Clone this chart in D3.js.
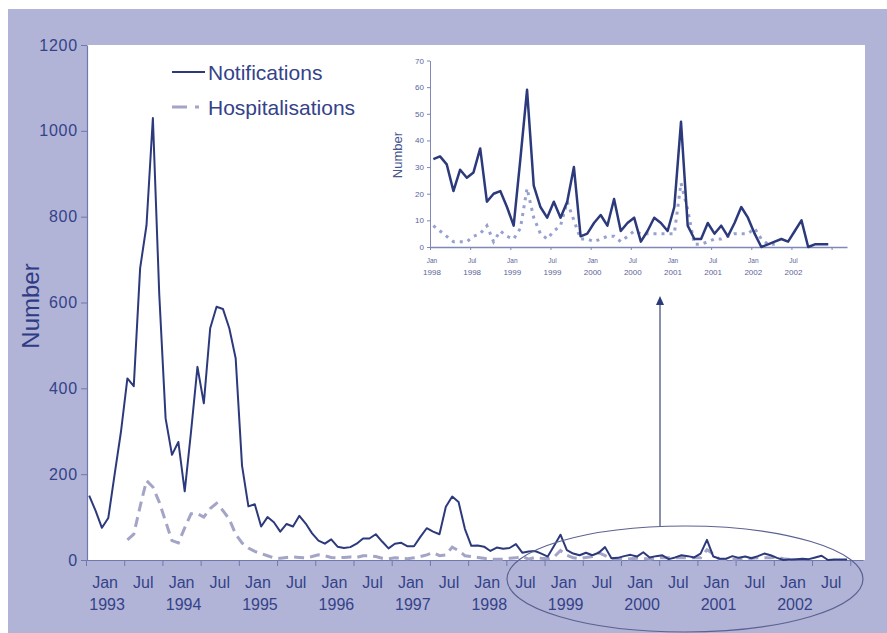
<!DOCTYPE html>
<html><head><meta charset="utf-8">
<script src="https://cdn.jsdelivr.net/npm/d3@7"></script>
<style>body{margin:0;background:#fff}svg{display:block}text{font-family:"Liberation Sans",Arial,sans-serif}</style>
</head><body>
<svg id="c" width="887" height="633"></svg>
<script>
// Monthly counts, Jan 1993 - Dec 1997
const notifications1993to1997 = [150,115,75,98,200,300,423,405,680,780,1030,620,
  330,245,275,160,300,450,365,540,590,585,540,470,
  220,125,130,78,100,88,66,84,78,103,85,62,
  45,38,48,31,28,30,38,50,50,60,43,27,
  38,40,32,32,54,74,66,60,124,148,135,72];
// Monthly counts, Jan 1998 - Dec 2002
const notifications1998to2002 = [33,34,31,21,29,26,28,37,17,20,21,15,
  8,33,59,23,15,11,17,11,17,30,4,5,
  9,12,8,18,6,9,11,2,6,11,9,6,
  15,47,8,3,3,9,5,8,4,9,15,11,
  5,0,1,2,3,2,6,10,0,1,1,1];
const hospitalisations1993to1997 = [null,null,null,null,null,null,47,60,125,185,170,135,
  90,45,40,75,108,108,100,120,132,115,95,60,
  40,28,20,15,10,5,4,6,7,6,5,8,
  12,10,6,5,6,7,6,10,10,8,4,3,
  5,4,3,5,8,12,17,10,12,30,22,10];
const hospitalisations1998to2002 = [8,6,4,2,2,2,4,5,8,2,6,4,
  3,7,22,11,5,3,6,8,17,10,3,3,
  2,3,4,4,2,4,6,5,5,5,5,5,
  5,24,14,1,1,2,3,3,4,5,5,5,
  7,3,1,1,null,null,null,null,null,null,null,null];
const mainYTicks = [0,200,400,600,800,1000,1200];
const insetYTicks = [0,10,20,30,40,50,60,70];
const halfYearLabels = ["Jan","Jul"];
const mainYears = ["1993","1994","1995","1996","1997","1998","1999","2000","2001","2002"];
const insetYears = ["1998","1999","2000","2001","2002"];
const seriesNames = ["Notifications","Hospitalisations"];

const navy = "#2c3a7c", axisCol = "#6f79ad", textCol = "#34428a";
const svg = d3.select("#c");
svg.append("rect").attr("x",8).attr("y",9).attr("width",879).attr("height",624).attr("fill","#b1b4d6");
svg.append("rect").attr("x",87).attr("y",45).attr("width",778).attr("height",515).attr("fill","#ffffff");

// ---------- main chart ----------
const x = d3.scaleLinear().domain([0,122]).range([86,863]);
const y = d3.scaleLinear().domain([0,1200]).range([560,45]);
const notif = notifications1993to1997.concat(notifications1998to2002);
const hosp = hospitalisations1993to1997.concat(hospitalisations1998to2002);

const yAx = svg.append("g").attr("transform","translate(87,0)")
  .call(d3.axisLeft(y).tickValues(mainYTicks).tickFormat(d3.format("d")).tickSize(6).tickPadding(3).tickSizeOuter(0));
yAx.select(".domain").attr("stroke",axisCol).attr("stroke-width",1.2);
yAx.selectAll(".tick line").attr("stroke",axisCol);
yAx.selectAll(".tick text").attr("fill",textCol).attr("font-size",16).attr("letter-spacing","0.8px")
  .attr("font-family","'Liberation Sans',Arial,sans-serif");

const xTicks = d3.range(0,121,6);
const xAx = svg.append("g").attr("transform","translate(0,560)")
  .call(d3.axisBottom(x).tickValues(xTicks).tickSize(6).tickFormat("").tickSizeOuter(0));
xAx.select(".domain").attr("stroke",axisCol).attr("stroke-width",1.2);
xAx.selectAll(".tick line").attr("stroke",axisCol);
const xl = svg.append("g");
d3.range(20).forEach(j=>{
  const cx = x(j*6+3);
  xl.append("text").attr("x",cx).attr("y",588).attr("text-anchor","middle")
    .attr("font-size",16).attr("fill",textCol).text(halfYearLabels[j%2]);
  if(j%2===0) xl.append("text").attr("x",cx+2).attr("y",610).attr("text-anchor","middle")
    .attr("font-size",16).attr("fill",textCol).text(mainYears[j/2]);
});
svg.append("text").attr("transform","translate(39,306) rotate(-90)").attr("text-anchor","middle")
  .attr("font-size",24).attr("fill","#2e3c85").text("Number");

const lineMain = d3.line().defined(d=>d!=null).x((d,i)=>x(i+0.5)).y(d=>y(d));
svg.append("path").datum(hosp).attr("d",lineMain).attr("fill","none")
  .attr("stroke","#a3a4c6").attr("stroke-width",3).attr("stroke-dasharray","10,6");
svg.append("path").datum(notif).attr("d",lineMain).attr("fill","none")
  .attr("stroke",navy).attr("stroke-width",2).attr("stroke-linejoin","round");

// legend
svg.append("line").attr("x1",172).attr("x2",205).attr("y1",72).attr("y2",72).attr("stroke",navy).attr("stroke-width",2);
svg.append("line").attr("x1",172).attr("x2",205).attr("y1",107).attr("y2",107).attr("stroke","#a3a4c6")
  .attr("stroke-width",3).attr("stroke-dasharray","15,8,4,20");
svg.append("text").attr("x",208).attr("y",80).attr("font-size",21).attr("fill",textCol).text(seriesNames[0]);
svg.append("text").attr("x",208).attr("y",115).attr("font-size",21).attr("fill",textCol).text(seriesNames[1]);

// ---------- inset ----------
const xi = d3.scaleLinear().domain([0,62.3]).range([430,847]);
const yi = d3.scaleLinear().domain([0,70]).range([247,60.5]);
const inAxCol = "#7f88b6", inText = "#5a6499";
const yiAx = svg.append("g").attr("transform","translate(430,0)")
  .call(d3.axisLeft(yi).tickValues(insetYTicks).tickSize(3).tickPadding(3).tickSizeOuter(0));
yiAx.select(".domain").attr("stroke",inAxCol);
yiAx.selectAll(".tick line").attr("stroke",inAxCol);
yiAx.selectAll(".tick text").attr("fill",inText).attr("font-size",8).attr("font-family","'Liberation Sans',Arial,sans-serif");
const xiAx = svg.append("g").attr("transform","translate(0,247)")
  .call(d3.axisBottom(xi).tickValues(d3.range(0,61,6)).tickSize(3).tickFormat("").tickSizeOuter(0));
xiAx.select(".domain").attr("stroke",inAxCol).attr("stroke-width",1.5);
xiAx.selectAll(".tick line").attr("stroke",inAxCol);
d3.range(10).forEach(j=>{
  const cx = xi(j*6);
  svg.append("text").attr("x",cx+2).attr("y",263).attr("text-anchor","middle")
    .attr("font-size",6.5).attr("fill",inText).text(halfYearLabels[j%2]);
  svg.append("text").attr("x",cx+2).attr("y",275).attr("text-anchor","middle")
    .attr("font-size",8).attr("fill",inText).text(insetYears[Math.floor(j/2)]);
});
svg.append("text").attr("transform","translate(402,155) rotate(-90)").attr("text-anchor","middle")
  .attr("font-size",13).attr("fill","#4a5590").text("Number");
const lineIn = d3.line().defined(d=>d!=null).x((d,i)=>xi(i+0.5)).y(d=>yi(d));
svg.append("path").datum(hospitalisations1998to2002).attr("d",lineIn).attr("fill","none")
  .attr("stroke","#97a1cf").attr("stroke-width",3).attr("stroke-dasharray","3,5");
svg.append("path").datum(notifications1998to2002).attr("d",lineIn).attr("fill","none")
  .attr("stroke",navy).attr("stroke-width",2.5).attr("stroke-linejoin","round");

// ---------- ellipse + arrow ----------
svg.append("ellipse").attr("cx",685).attr("cy",579).attr("rx",178).attr("ry",53)
  .attr("fill","none").attr("stroke","#5b6290").attr("stroke-width",1.2);
svg.append("line").attr("x1",660).attr("x2",660).attr("y1",526).attr("y2",304)
  .attr("stroke","#4d5480").attr("stroke-width",1.3);
svg.append("path").attr("d","M660,296 L656,305 L664,305 Z").attr("fill","#2c3a7c");
</script>
</body></html>
